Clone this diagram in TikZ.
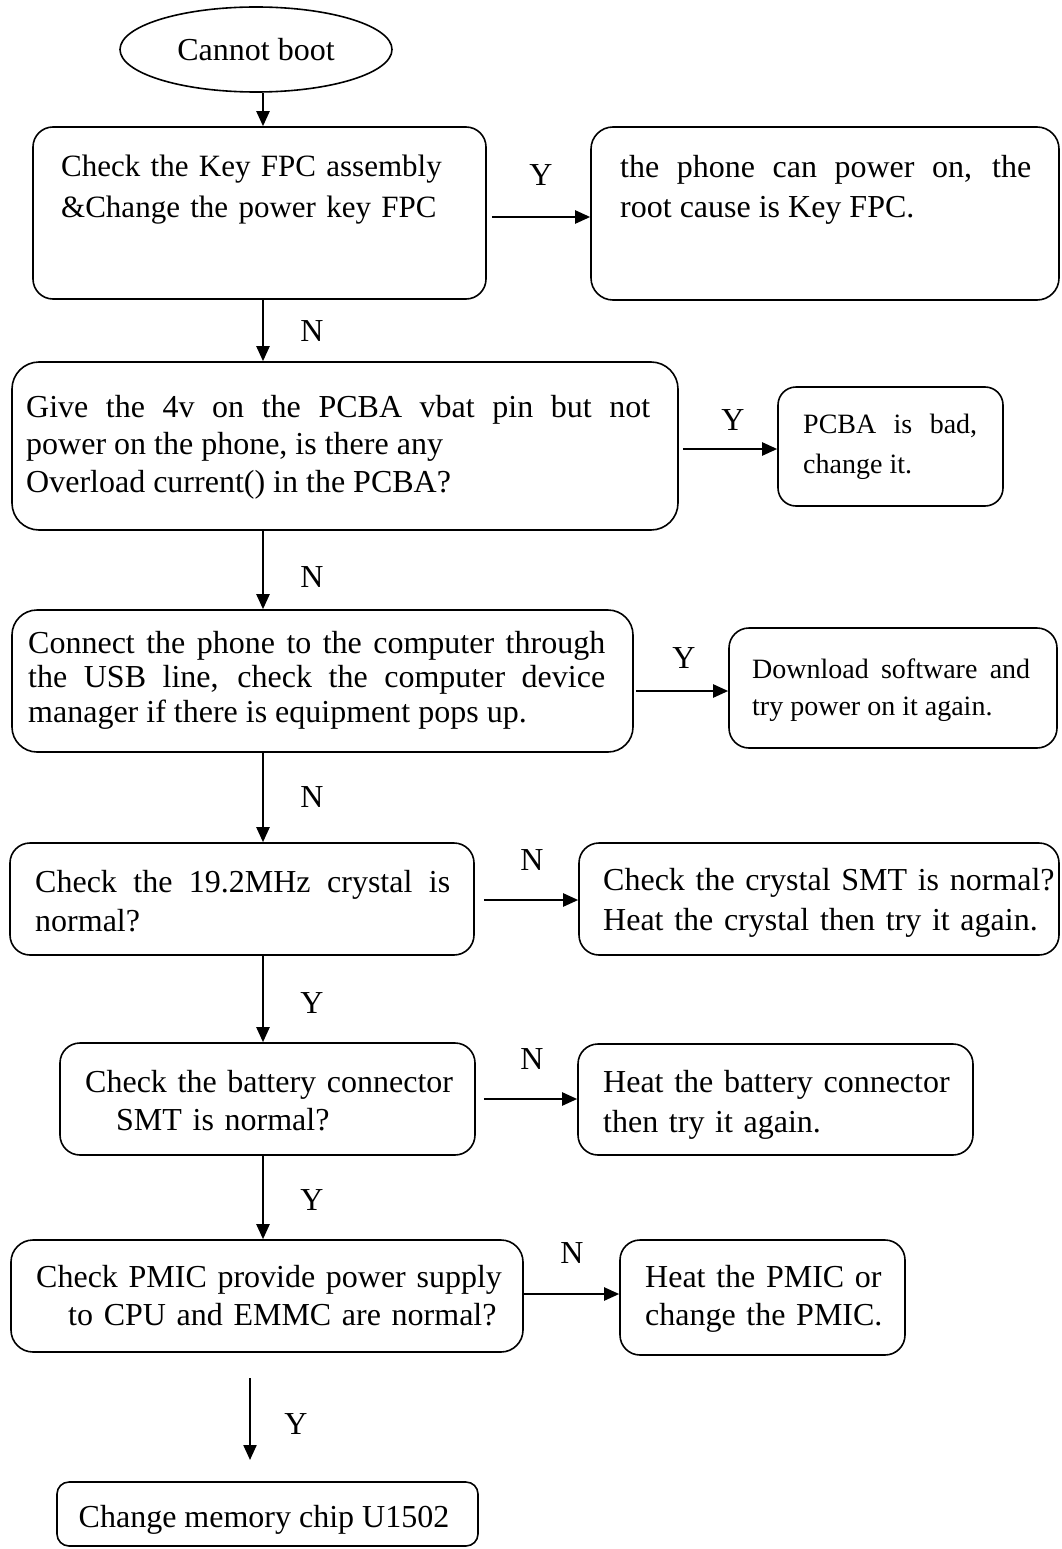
\documentclass[tikz,border=0pt]{standalone}
\usepackage{fontspec}
\setmainfont{Liberation Serif}
\usetikzlibrary{arrows.meta,shapes.geometric}
\begin{document}
\hyphenpenalty=10000
\exhyphenpenalty=10000
\tolerance=10000
\begin{tikzpicture}[x=1pt,y=-1pt,
  box/.style={draw, line width=1.6pt, rounded corners=20pt, inner sep=0pt},
  txt/.style={inner sep=0pt, anchor=base west, align=justify},
  big/.style={font=\fontsize{32}{#1}\selectfont},
  mid/.style={font=\fontsize{31}{#1}\selectfont},
  small/.style={font=\fontsize{28}{#1}\selectfont},
  lbl/.style={inner sep=0pt, font=\fontsize{32}{38}\selectfont},
  arr/.style={line width=2.2pt, -{Triangle[length=15pt,width=13pt]}},
]
\useasboundingbox (0,0) rectangle (1062,1549);
\coordinate (sp) at (263,0);

% start
\node[draw, ellipse, line width=1.6pt, minimum width=272pt, minimum height=85pt, inner sep=0pt,
      font=\fontsize{32}{38}\selectfont] (e) at (256,49.5) {Cannot boot};

% boxes
\node[box, minimum width=453pt, minimum height=172pt] (b1) at (259.5,213) {};
\node[box, rounded corners=22pt, minimum width=468pt, minimum height=173pt] (b2) at (825,213.5) {};
\node[box, rounded corners=27pt, minimum width=666pt, minimum height=168pt] (b3) at (345,446) {};
\node[box, rounded corners=18pt, minimum width=225pt, minimum height=119pt] (b4) at (890.5,446.5) {};
\node[box, rounded corners=25pt, minimum width=621pt, minimum height=142pt] (b5) at (322.5,681) {};
\node[box, minimum width=328pt, minimum height=120pt] (b6) at (893,688) {};
\node[box, minimum width=464pt, minimum height=112pt] (b7) at (242,899) {};
\node[box, minimum width=480pt, minimum height=112pt] (b8) at (819,899) {};
\node[box, minimum width=415pt, minimum height=112pt] (b9) at (267.5,1099) {};
\node[box, minimum width=395pt, minimum height=111pt] (b10) at (775.5,1099.5) {};
\node[box, rounded corners=22pt, minimum width=512pt, minimum height=112pt] (b11) at (267,1296) {};
\node[box, minimum width=285pt, minimum height=115pt] (b12) at (762.5,1297.5) {};
\node[box, rounded corners=12pt, minimum width=421pt, minimum height=64pt] (b13) at (267.5,1514) {};

% texts
\node[txt, mid=41pt, align=left, text width=425pt] (t1) at (61,177)
  {Check the Key FPC assembly\\\&Change the power key FPC};
\node[txt, big=40pt, text width=411pt] (t2) at (620,178)
  {the phone can power on, the\linebreak root cause is Key FPC.};
\node[txt, big=37.5pt, text width=624pt] (t3) at (26,417)
  {Give the 4v on the PCBA vbat pin but not\linebreak power on the phone, is there any\newline Overload current() in the PCBA?};
\node[txt, small=40pt, text width=174pt] (t4) at (803,433)
  {PCBA is bad,\linebreak change it.};
\node[txt, big=34.5pt, text width=577pt] (t5) at (28,653)
  {Connect the phone to the computer through\linebreak the USB line, check the computer device\linebreak manager if there is equipment pops up.};
\node[txt, small=37pt, text width=278pt] (t6) at (752,678)
  {Download software and\linebreak try power on it again.};
\node[txt, big=39pt, text width=415pt] (t7) at (35,892)
  {Check the 19.2MHz crystal is\linebreak normal?};
\node[txt, big=40pt, align=left, text width=500pt] (t8) at (603,890)
  {Check the crystal SMT is normal?\\Heat the crystal then try it again.};
\node[txt, big=38pt, align=left, text width=380pt] (t9) at (85,1092)
  {Check the battery connector\\\hspace*{31pt}SMT is normal?};
\node[txt, big=40pt, align=left, text width=360pt] (t10) at (603,1092)
  {Heat the battery connector\\then try it again.};
\node[txt, big=38pt, align=left, text width=475pt] (t11) at (36,1287)
  {Check PMIC provide power supply\\\hspace*{32pt}to CPU and EMMC are normal?};
\node[txt, big=38pt, align=left, text width=255pt] (t12) at (645,1287)
  {Heat the PMIC or\\change the PMIC.};
\node[inner sep=0pt, anchor=base, font=\fontsize{32}{38}\selectfont] (t13) at (264,1527)
  {Change memory chip U1502};

% labels
\node[lbl] (l1) at (541,175) {Y};
\node[lbl] (l2) at (312,331) {N};
\node[lbl] (l3) at (733,420) {Y};
\node[lbl] (l4) at (312,577) {N};
\node[lbl] (l5) at (684,658) {Y};
\node[lbl] (l6) at (312,797) {N};
\node[lbl] (l7) at (532,860) {N};
\node[lbl] (l8) at (312,1003) {Y};
\node[lbl] (l9) at (532,1059) {N};
\node[lbl] (l10) at (312,1200) {Y};
\node[lbl] (l11) at (572,1253) {N};
\node[lbl] (l12) at (296,1424) {Y};

% vertical connectors
\draw[arr] (e.south -| sp) -- (b1.north -| sp);
\draw[arr] (b1.south -| sp) -- (b3.north -| sp);
\draw[arr] (b3.south -| sp) -- (b5.north -| sp);
\draw[arr] (b5.south -| sp) -- (b7.north -| sp);
\draw[arr] (b7.south -| sp) -- (b9.north -| sp);
\draw[arr] (b9.south -| sp) -- (b11.north -| sp);
\coordinate (f1) at (250,1378);
\coordinate (f2) at (250,1460);
\draw[arr] (f1) -- (f2);

% horizontal connectors
\draw[arr, shorten <=5pt] ([yshift=-4pt]b1.east) coordinate (s1) -- (s1 -| b2.west);
\draw[arr, shorten <=4pt] ([yshift=-3pt]b3.east) coordinate (s2) -- (s2 -| b4.west);
\draw[arr, shorten <=2pt] ([yshift=-10pt]b5.east) coordinate (s3) -- (s3 -| b6.west);
\draw[arr, shorten <=9pt] ([yshift=-1pt]b7.east) coordinate (s4) -- (s4 -| b8.west);
\draw[arr, shorten <=8pt] (b9.east) coordinate (s5) -- (s5 -| b10.west);
\draw[arr] ([yshift=2pt]b11.east) coordinate (s6) -- (s6 -| b12.west);
\end{tikzpicture}
\end{document}
